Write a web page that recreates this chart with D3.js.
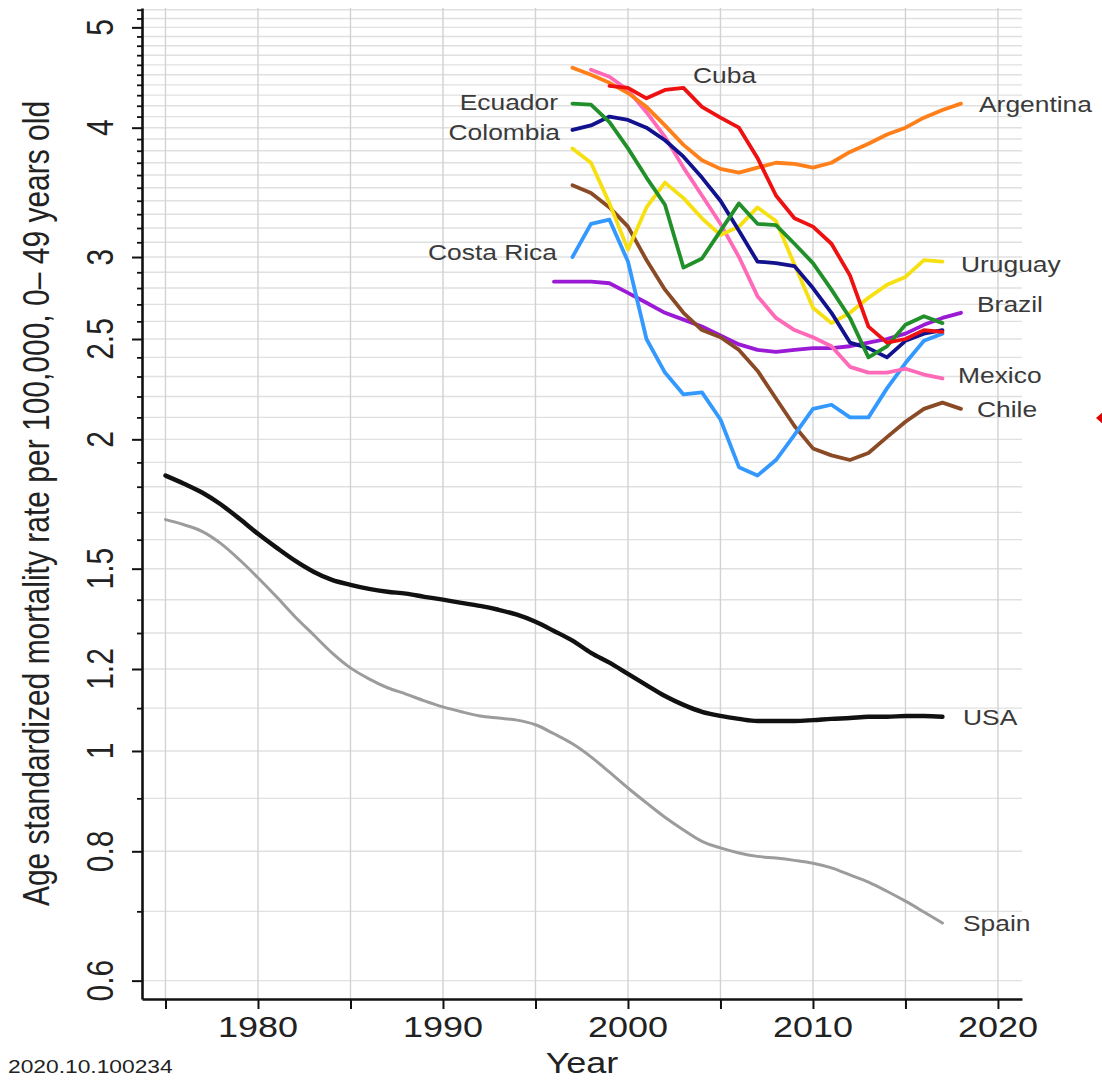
<!DOCTYPE html>
<html>
<head>
<meta charset="utf-8">
<script src="https://cdn.jsdelivr.net/npm/d3@7"></script>
<style>
body { margin: 0; background: #fff; }
text { font-family: "Liberation Sans", Arial, sans-serif; fill: #222; }
</style>
</head>
<body>
<div id="container"></div>
<script>
const W = 1102, H = 1081;
const pLeft = 142, pRight = 1022, pTop = 8, pBottom = 999;
const sx = 1.2; // the lettering in the picture is stretched sideways

// tick values / labels
const xMajor = [1980, 1990, 2000, 2010, 2020];
const xMinor = [1975, 1985, 1995, 2005, 2015];
const yMajor = [0.6, 0.8, 1, 1.2, 1.5, 2, 2.5, 3, 4, 5];
const yMajorLabels = ["0.6", "0.8", "1", "1.2", "1.5", "2", "2.5", "3", "4", "5"];
const yAll = d3.range(6, 53).map(d => d / 10);
const yMinor = yAll.filter(d => yMajor.indexOf(d) < 0);

// series (rate per 100,000), one value per year from the start year
const usaStart = 1975;
const usa = [1.845,1.812,1.776,1.730,1.676,1.621,1.572,1.527,1.490,1.463,
  1.447,1.434,1.425,1.419,1.409,1.400,1.390,1.381,1.369,1.354,
  1.333,1.306,1.278,1.244,1.217,1.187,1.158,1.130,1.108,1.091,
  1.081,1.074,1.069,1.069,1.069,1.071,1.074,1.076,1.079,1.079,
  1.081,1.081,1.079];
const spainStart = 1975;
const spain = [1.673,1.654,1.629,1.586,1.530,1.470,1.409,1.348,1.295,1.244,
  1.203,1.174,1.151,1.135,1.118,1.103,1.091,1.081,1.076,1.071,
  1.060,1.039,1.016,0.987,0.954,0.921,0.891,0.863,0.839,0.818,
  0.806,0.797,0.791,0.788,0.784,0.779,0.771,0.759,0.747,0.732,
  0.716,0.699,0.682];
const argentinaStart = 1997;
const argentina = [4.57,4.50,4.42,4.32,4.19,4.02,3.85,3.72,3.65,3.62,3.66,
  3.70,3.69,3.66,3.70,3.79,3.86,3.94,4.00,4.09,4.16,4.22];
const cubaStart = 1999;
const cuba = [4.39,4.37,4.27,4.35,4.37,4.19,4.09,4.00,3.74,3.44,3.27,3.21,
  3.09,2.88,2.57,2.48,2.50,2.55,2.54];
const ecuadorStart = 1997;
const ecuador = [4.22,4.21,4.05,3.82,3.58,3.37,2.93,2.99,3.18,3.38,3.23,
  3.22,3.09,2.96,2.79,2.62,2.40,2.46,2.58,2.63,2.59];
const colombiaStart = 1997;
const colombia = [3.98,4.02,4.10,4.07,4.00,3.89,3.75,3.58,3.40,3.18,2.97,
  2.96,2.94,2.80,2.65,2.48,2.45,2.40,2.49,2.53,2.55];
const costaRicaStart = 1997;
const costaRica = [3.00,3.23,3.26,2.97,2.50,2.32,2.21,2.22,2.09,1.88,1.845,
  1.91,2.02,2.14,2.16,2.10,2.10,2.24,2.37,2.49,2.53];
const uruguayStart = 1997;
const uruguay = [3.82,3.70,3.38,3.05,3.35,3.54,3.42,3.27,3.15,3.21,3.35,
  3.25,2.95,2.68,2.59,2.65,2.74,2.82,2.87,2.98,2.97];
const brazilStart = 1996;
const brazil = [2.84,2.84,2.84,2.83,2.77,2.71,2.65,2.61,2.57,2.52,2.47,
  2.44,2.43,2.44,2.45,2.45,2.46,2.48,2.50,2.53,2.58,2.62,2.65];
const mexicoStart = 1998;
const mexico = [4.55,4.48,4.35,4.14,3.92,3.66,3.44,3.23,3.00,2.75,2.62,
  2.55,2.51,2.46,2.35,2.32,2.32,2.34,2.31,2.29];
const chileStart = 1997;
const chile = [3.52,3.46,3.35,3.21,2.98,2.79,2.65,2.55,2.51,2.44,2.33,
  2.19,2.06,1.96,1.93,1.91,1.94,2.01,2.08,2.14,2.17,2.14];

var series = [
  { name: "Spain", start: spainStart, values: spain, color: "#9c9c9c", w: 3, smooth: true },
  { name: "USA", start: usaStart, values: usa, color: "#111111", w: 4.4, smooth: true },
  { name: "Brazil", start: brazilStart, values: brazil, color: "#9a1ad6", w: 3.8 },
  { name: "Chile", start: chileStart, values: chile, color: "#8b4a26", w: 3.8 },
  { name: "Costa Rica", start: costaRicaStart, values: costaRica, color: "#3399ff", w: 3.8 },
  { name: "Mexico", start: mexicoStart, values: mexico, color: "#ff6ab8", w: 3.8 },
  { name: "Uruguay", start: uruguayStart, values: uruguay, color: "#f7e012", w: 3.8 },
  { name: "Colombia", start: colombiaStart, values: colombia, color: "#12128e", w: 3.8 },
  { name: "Ecuador", start: ecuadorStart, values: ecuador, color: "#22902a", w: 3.8 },
  { name: "Argentina", start: argentinaStart, values: argentina, color: "#ff7f1a", w: 3.8 },
  { name: "Cuba", start: cubaStart, values: cuba, color: "#ee1111", w: 3.8 }
];

// where the names sit (pixels)
var labels = [
  { t: "Cuba", x: 693, y: 83, a: "start" },
  { t: "Ecuador", x: 558, y: 110, a: "end" },
  { t: "Colombia", x: 560, y: 140, a: "end" },
  { t: "Costa Rica", x: 557, y: 260, a: "end" },
  { t: "Argentina", x: 979, y: 112, a: "start" },
  { t: "Uruguay", x: 961, y: 272, a: "start" },
  { t: "Brazil", x: 977, y: 312, a: "start" },
  { t: "Mexico", x: 958, y: 383, a: "start" },
  { t: "Chile", x: 977, y: 417, a: "start" },
  { t: "USA", x: 963, y: 725, a: "start" },
  { t: "Spain", x: 963, y: 931, a: "start" }
];

var x = d3.scaleLinear().domain([1973.73, 2021.3]).range([pLeft, pRight]);
var y = d3.scaleLog().domain([0.576, 5.22]).range([pBottom, pTop]);

var svg = d3.select("#container").append("svg")
  .attr("width", W)
  .attr("height", H)
  .style("display", "block");

// grid
svg.append("g").selectAll("line")
  .data(yAll)
  .join("line")
  .attr("x1", pLeft).attr("x2", pRight)
  .attr("y1", d => y(d)).attr("y2", d => y(d))
  .attr("stroke", "#e0e0e0")
  .attr("stroke-width", 1.4);

svg.append("g").selectAll("line")
  .data(xMinor.concat(xMajor))
  .join("line")
  .attr("x1", d => x(d)).attr("x2", d => x(d))
  .attr("y1", pTop).attr("y2", pBottom)
  .attr("stroke", "#d2d2d2")
  .attr("stroke-width", 1.4);

// lines
series.forEach(s => {
  var line = d3.line()
    .x((d, i) => x(s.start + i))
    .y(d => y(d))
    .curve(s.smooth ? d3.curveMonotoneX : d3.curveLinear);
  svg.append("path")
    .attr("d", line(s.values))
    .attr("fill", "none")
    .attr("stroke", s.color)
    .attr("stroke-width", s.w)
    .attr("stroke-linejoin", "round")
    .attr("stroke-linecap", "round");
});

// axes
var gx = svg.append("g")
  .attr("transform", "translate(0," + pBottom + ")")
  .call(d3.axisBottom(x).tickValues(xMajor.concat(xMinor)).tickSize(10).tickSizeOuter(0).tickFormat(""));
gx.select(".domain").attr("stroke", "#111").attr("stroke-width", 2.6);
gx.selectAll(".tick line").attr("stroke", "#111").attr("stroke-width", 2);

var gyMinor = svg.append("g")
  .attr("transform", "translate(" + pLeft + ",0)")
  .call(d3.axisLeft(y).tickValues(yMinor).tickSize(5).tickFormat(""));
gyMinor.select(".domain").remove();
gyMinor.selectAll(".tick line").attr("stroke", "#111").attr("stroke-width", 1.8);

var gy = svg.append("g")
  .attr("transform", "translate(" + pLeft + ",0)")
  .call(d3.axisLeft(y).tickValues(yMajor).tickSize(10).tickSizeOuter(0).tickFormat(""));
gy.select(".domain").attr("stroke", "#111").attr("stroke-width", 2.6);
gy.selectAll(".tick line").attr("stroke", "#111").attr("stroke-width", 2);

// tick labels
svg.append("g").selectAll("text")
  .data(xMajor)
  .join("text")
  .attr("transform", d => "translate(" + x(d) + ",1037) scale(" + sx + ",1)")
  .attr("text-anchor", "middle")
  .style("font-size", "30px")
  .text(d => d);

svg.append("g").selectAll("text")
  .data(yMajor)
  .join("text")
  .attr("transform", d => "translate(113," + y(d) + ") scale(" + sx + ",1) rotate(-90)")
  .attr("text-anchor", "middle")
  .style("font-size", "30px")
  .text((d, i) => yMajorLabels[i]);

// axis titles
svg.append("text")
  .attr("transform", "translate(" + (pLeft + pRight) / 2 + ",1073) scale(" + sx + ",1)")
  .attr("text-anchor", "middle")
  .style("font-size", "30px")
  .text("Year");

svg.append("text")
  .attr("transform", "translate(49," + (pTop + pBottom) / 2 + ") scale(" + sx + ",1) rotate(-90)")
  .attr("text-anchor", "middle")
  .style("font-size", "30px")
  .text("Age standardized mortality rate per 100,000, 0\u2013 49 years old");

// country names
svg.append("g").selectAll("text")
  .data(labels)
  .join("text")
  .attr("transform", d => "translate(" + d.x + "," + d.y + ") scale(" + sx + ",1)")
  .attr("text-anchor", d => d.a)
  .style("font-size", "22px")
  .style("fill", "#3a3a3a")
  .text(d => d.t);

// caption at the bottom edge
svg.append("text")
  .attr("transform", "translate(8,1073) scale(" + sx + ",1)")
  .style("font-size", "19px")
  .text("2020.10.100234");

// small red pointer at the right edge
svg.append("path")
  .attr("d", "M1096,418L1103,412L1103,424Z")
  .attr("fill", "#e00000");
</script>
</body>
</html>
